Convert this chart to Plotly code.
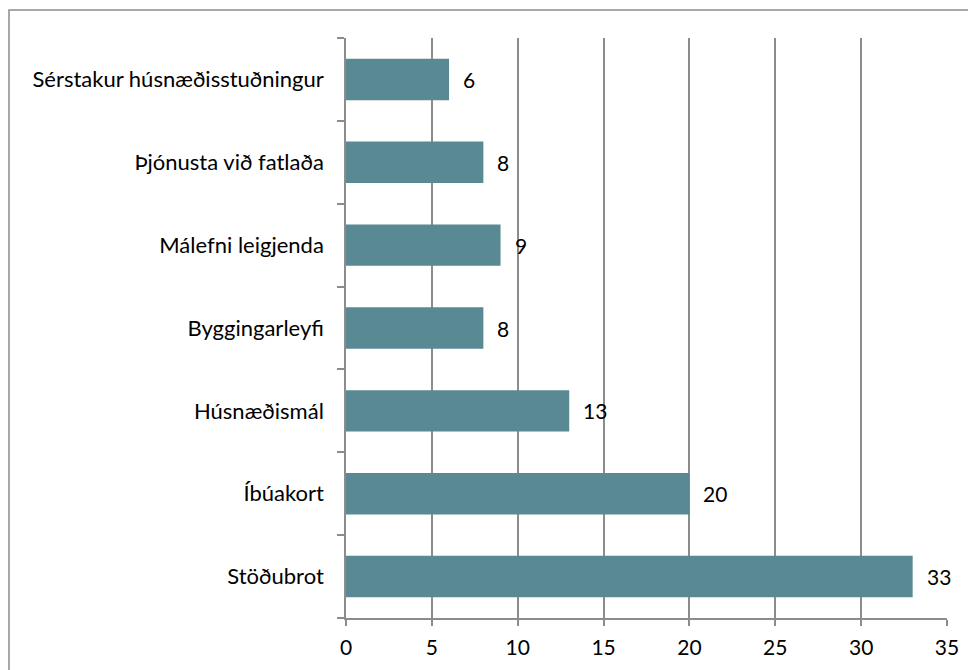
import plotly.graph_objects as go

categories = ["Stöðubrot", "Íbúakort", "Húsnæðismál", "Byggingarleyfi",
              "Málefni leigjenda", "Þjónusta við fatlaða", "Sérstakur húsnæðisstuðningur"]
values = [33, 20, 13, 8, 9, 8, 6]
x_ticks = [0, 5, 10, 15, 20, 25, 30, 35]

FONT = "Lato"
GRAY = "#8c8c8c"
BAR = "#598993"

W, H = 968, 662
L, R, T, B = 338, 29, 30, 52
PW, PH = W - L - R, H - T - B

fig = go.Figure()
fig.add_trace(go.Bar(
    y=categories, x=values, orientation="h",
    marker=dict(color=BAR, line=dict(width=0)),
    hoverinfo="skip",
))

for c, v in zip(categories, values):
    fig.add_annotation(x=v, y=c, text=str(v), showarrow=False,
                       xanchor="left", xshift=12,
                       font=dict(family=FONT, size=21, color="#000000"))

fig.update_layout(
    width=W, height=H,
    margin=dict(l=L, r=R, t=T, b=B, autoexpand=False),
    paper_bgcolor="white", plot_bgcolor="white",
    showlegend=False,
    bargap=0.5,
    font=dict(family=FONT, size=20, color="#000000"),
    xaxis=dict(range=[0, 35], tickvals=x_ticks, ticktext=[str(t) for t in x_ticks],
               showgrid=True, gridcolor=GRAY, gridwidth=1.5,
               showline=True, linecolor=GRAY, linewidth=1.5,
               ticks="outside", ticklen=6, tickcolor=GRAY, tickwidth=1.5,
               ticklabelstandoff=4,
               tickfont=dict(family=FONT, size=21), zeroline=False, fixedrange=True),
    yaxis=dict(type="category", categoryorder="array", categoryarray=categories,
               showgrid=False, showline=True, linecolor=GRAY, linewidth=1.5,
               ticks="outside", tickson="boundaries", ticklen=7, tickcolor=GRAY,
               tickwidth=1.5, ticklabelstandoff=16,
               tickfont=dict(family=FONT, size=22), fixedrange=True),
    shapes=[dict(type="rect", xref="paper", yref="paper",
                 x0=(1 - L) / PW, x1=1.2, y0=-0.3, y1=(PH + T - 2) / PH,
                 line=dict(color=GRAY, width=1.5), fillcolor="rgba(0,0,0,0)",
                 layer="below")],
)

fig.write_html("out.html")
